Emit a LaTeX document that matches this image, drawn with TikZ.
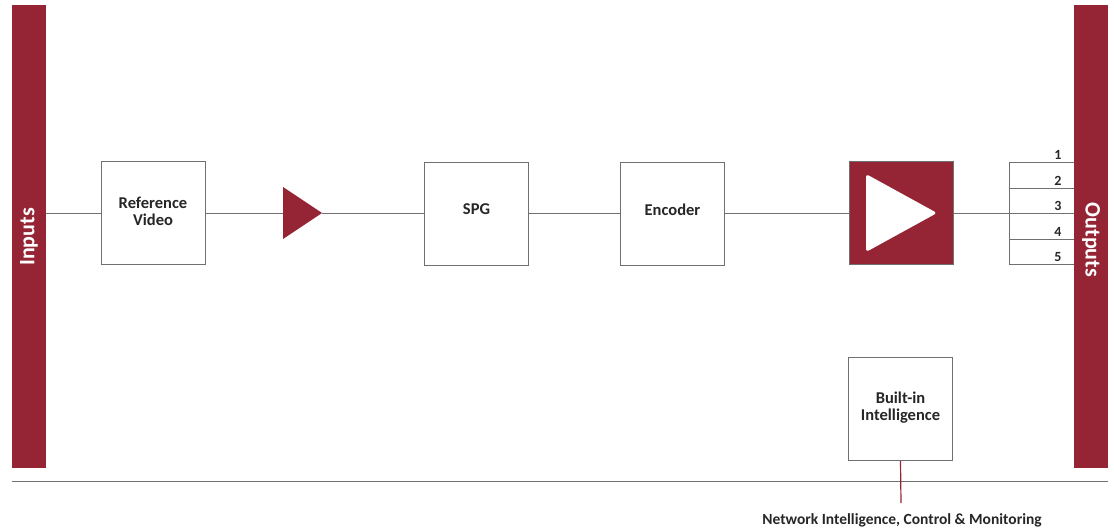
\documentclass[tikz,border=0pt]{standalone}
\usepackage{fontspec}
\setmainfont{Carlito}
\definecolor{brand}{HTML}{952535}
\definecolor{edge}{HTML}{707070}
\begin{document}
\begin{tikzpicture}[x=1pt,y=-1pt,
  blk/.style={draw=edge,line width=1pt,fill=white,minimum width=104pt,minimum height=103pt,inner sep=0pt},
  txt/.style={align=center,font=\bfseries\fontsize{16.5}{17}\selectfont,text=black!85,yshift=4pt,inner sep=0pt},
  bar/.style={fill=brand,draw=none},
  wire/.style={draw=edge,line width=1pt},
  num/.style={font=\bfseries\fontsize{14}{16}\selectfont,text=black!85,inner sep=0pt}]
\useasboundingbox (0,0) rectangle (1114,530);
% bars
\node[bar,minimum width=34pt,minimum height=463pt,inner sep=0pt] (inbar) at (29,236.5) {};
\node[bar,minimum width=34pt,minimum height=463pt,inner sep=0pt] (outbar) at (1091,236.5) {};
\node[rotate=90,text=white,font=\bfseries\fontsize{22}{24}\selectfont] (intxt) at (29,237) {Inputs};
\node[rotate=-90,text=white,font=\bfseries\fontsize{22}{24}\selectfont] (outtxt) at (1091,240) {Outputs};
% bottom line
\coordinate (bl) at (12,481);
\coordinate (br) at (1108,481);
\draw[wire] (bl) -- (br);
% blocks
\node[blk,label={[txt,yshift=-2pt]center:{Reference\\Video}}] (ref) at (153,213) {};
\node[blk,label={[txt]center:SPG}] (spg) at (476.5,213.5) {};
\node[blk,label={[txt]center:Encoder}] (enc) at (672.5,213.5) {};
\node[blk,fill=brand,draw=edge] (amp) at (901,213) {};
\node[blk,label={[txt,yshift=-3pt]center:{Built-in\\Intelligence}}] (bii) at (900.5,409) {};
% small triangle
\coordinate (t1) at (283,187);
\coordinate (t2) at (283,239);
\coordinate (t3) at (322,213);
\fill[brand] (t1) -- (t3) -- (t2) -- cycle;
% big white triangle
\coordinate (w1) at (866,174);
\coordinate (w2) at (866,252);
\coordinate (w3) at (937,213);
\fill[white,rounded corners=3pt] (w1) -- (w3) -- (w2) -- cycle;
% wires
\draw[wire] (inbar.east |- ref.west) -- (ref.west);
\draw[wire] (ref.east) -- (t1 |- ref.east);
\draw[wire] (t3) -- (spg.west |- t3);
\draw[wire] (spg.east |- t3) -- (enc.west |- t3);
\draw[wire] (enc.east |- t3) -- (amp.west);
\coordinate (fork) at (1009,213);
\draw[wire] (amp.east) -- (fork);
% outputs bracket
\coordinate (ftop) at (1009,162);
\coordinate (fbot) at (1009,264);
\draw[wire] (ftop) -- (fbot);
\foreach \y/\n in {162/1,188/2,213/3,239/4,264/5}{
  \coordinate (o\n) at (1009,\y);
  \draw[wire] (o\n) -- (outbar.west |- o\n);
  \node[num,anchor=south] (n\n) at (1058,\y-2) {\n};
}
% network line
\coordinate (nb) at (901,503);
\draw[brand,line width=1.2pt] (bii.south) -- (nb);
\node[font=\bfseries\fontsize{15.5}{17}\selectfont,text=black!85,anchor=north] (net) at (902,510) {Network Intelligence, Control \& Monitoring};
\end{tikzpicture}
\end{document}
